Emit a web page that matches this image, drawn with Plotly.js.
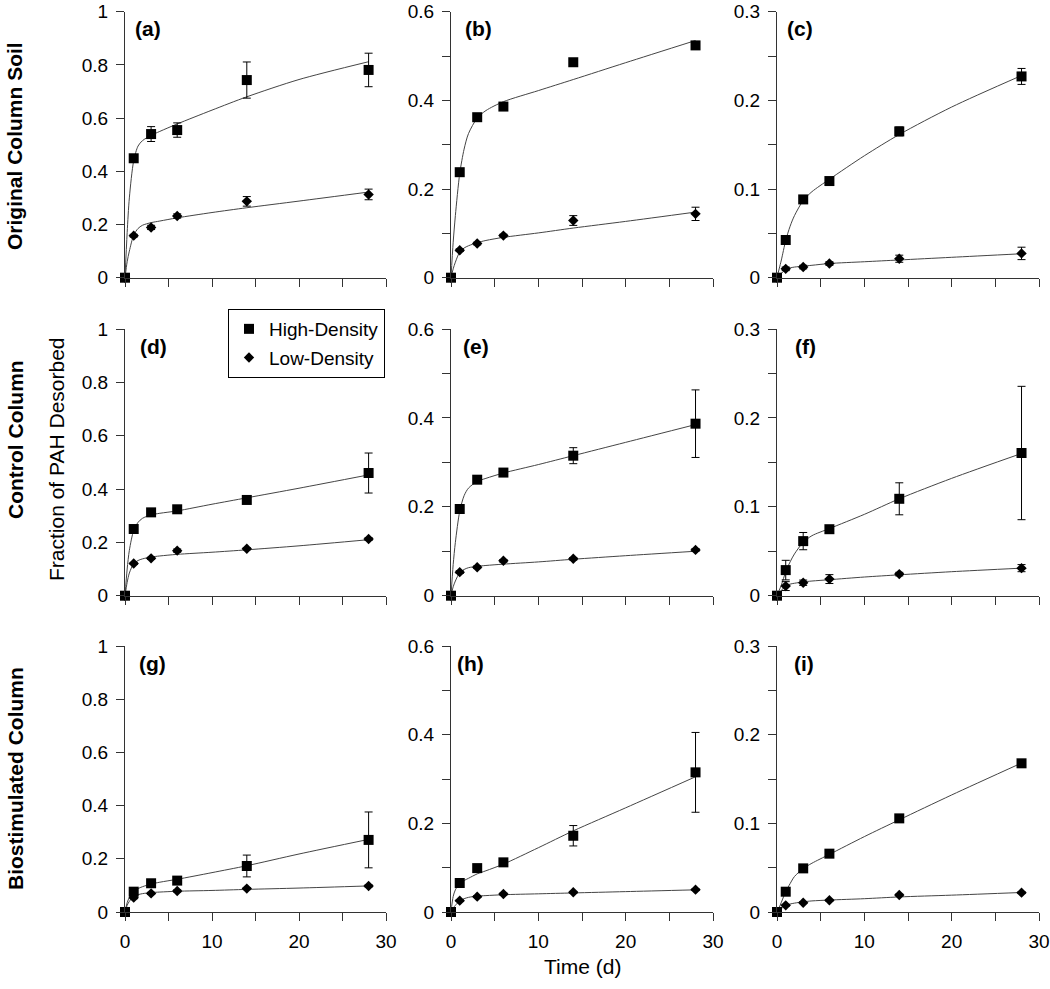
<!DOCTYPE html>
<html>
<head>
<meta charset="utf-8">
<script src="https://cdn.plot.ly/plotly-3.0.1.min.js"></script>
<style>html,body{margin:0;padding:0;background:#fff;}#chart{width:1050px;height:989px;}</style>
</head>
<body>
<div id="chart"></div>
<script>
// ---- Data ----
const days = [0, 1, 3, 6, 14, 28];
const fitDays = [0, 0.25, 0.5, 1, 1.5, 2, 3, 4, 6, 10, 14, 20, 28];
const seriesNames = ["High-Density", "Low-Density"];
const panelLabels = ["(a)", "(b)", "(c)", "(d)", "(e)", "(f)", "(g)", "(h)", "(i)"];
const rowLabels = ["Original Column Soil", "Control Column", "Biostimulated Column"];
const yLabel = "Fraction of PAH Desorbed";
const xLabel = "Time (d)";

// (a) Original soil, column 1
const aHigh = [0, 0.449, 0.540, 0.555, 0.743, 0.781];
const aHighErr = [0, 0.006, 0.028, 0.027, 0.068, 0.063];
const aLow = [0, 0.158, 0.189, 0.232, 0.287, 0.313];
const aLowErr = [0, 0.005, 0.008, 0.008, 0.018, 0.020];
const aHighFit = [0, 0.17, 0.30, 0.44, 0.495, 0.515, 0.535, 0.55, 0.578, 0.63, 0.68, 0.745, 0.812];
const aLowFit = [0, 0.06, 0.10, 0.16, 0.185, 0.197, 0.207, 0.213, 0.225, 0.245, 0.263, 0.288, 0.322];
// (b)
const bHigh = [0, 0.238, 0.362, 0.386, 0.486, 0.524];
const bHighErr = [0, 0.004, 0.004, 0.004, 0.004, 0.006];
const bLow = [0, 0.062, 0.077, 0.095, 0.129, 0.144];
const bLowErr = [0, 0.003, 0.003, 0.003, 0.011, 0.015];
const bHighFit = [0, 0.08, 0.14, 0.235, 0.29, 0.325, 0.36, 0.377, 0.397, 0.422, 0.447, 0.485, 0.535];
const bLowFit = [0, 0.02, 0.035, 0.058, 0.067, 0.072, 0.079, 0.084, 0.091, 0.101, 0.112, 0.127, 0.148];
// (c)
const cHigh = [0, 0.0425, 0.0883, 0.109, 0.165, 0.227];
const cHighErr = [0, 0.003, 0.003, 0.003, 0.005, 0.009];
const cLow = [0, 0.010, 0.012, 0.016, 0.0214, 0.0274];
const cLowErr = [0, 0.002, 0.002, 0.002, 0.004, 0.007];
const cHighFit = [0, 0.01, 0.02, 0.042, 0.058, 0.07, 0.087, 0.097, 0.111, 0.1375, 0.1615, 0.1925, 0.228];
const cLowFit = [0, 0.003, 0.005, 0.009, 0.011, 0.012, 0.013, 0.014, 0.016, 0.018, 0.02, 0.023, 0.027];
// (d) Control column
const dHigh = [0, 0.25, 0.3125, 0.324, 0.359, 0.46];
const dHighErr = [0, 0.01, 0.008, 0.006, 0.01, 0.075];
const dLow = [0, 0.121, 0.14, 0.169, 0.176, 0.2125];
const dLowErr = [0, 0.004, 0.004, 0.006, 0.004, 0.005];
const dHighFit = [0, 0.10, 0.17, 0.245, 0.275, 0.29, 0.303, 0.309, 0.318, 0.343, 0.367, 0.403, 0.453];
const dLowFit = [0, 0.05, 0.085, 0.12, 0.132, 0.138, 0.145, 0.149, 0.155, 0.163, 0.172, 0.187, 0.21];
// (e)
const eHigh = [0, 0.195, 0.261, 0.277, 0.315, 0.387];
const eHighErr = [0, 0.01, 0.004, 0.004, 0.018, 0.076];
const eLow = [0, 0.053, 0.064, 0.0785, 0.083, 0.103];
const eLowErr = [0, 0.003, 0.003, 0.003, 0.003, 0.003];
const eHighFit = [0, 0.07, 0.12, 0.19, 0.225, 0.242, 0.257, 0.264, 0.276, 0.295, 0.315, 0.345, 0.385];
const eLowFit = [0, 0.02, 0.033, 0.052, 0.059, 0.063, 0.066, 0.068, 0.071, 0.076, 0.082, 0.09, 0.10];
// (f)
const fHigh = [0, 0.0288, 0.0614, 0.0748, 0.109, 0.1605];
const fHighErr = [0, 0.011, 0.0097, 0.004, 0.018, 0.075];
const fLow = [0, 0.0108, 0.0146, 0.0187, 0.0243, 0.031];
const fLowErr = [0, 0.005, 0.003, 0.005, 0.002, 0.004];
const fHighFit = [0, 0.006, 0.012, 0.027, 0.038, 0.047, 0.06, 0.0675, 0.0755, 0.0915, 0.109, 0.132, 0.16];
const fLowFit = [0, 0.003, 0.006, 0.011, 0.013, 0.014, 0.0155, 0.0165, 0.018, 0.021, 0.0235, 0.027, 0.031];
// (g) Biostimulated column
const gHigh = [0, 0.0764, 0.108, 0.118, 0.173, 0.271];
const gHighErr = [0, 0.005, 0.005, 0.005, 0.041, 0.105];
const gLow = [0, 0.054, 0.070, 0.079, 0.088, 0.098];
const gLowErr = [0, 0.004, 0.004, 0.004, 0.004, 0.004];
const gHighFit = [0, 0.035, 0.055, 0.077, 0.088, 0.095, 0.105, 0.112, 0.123, 0.148, 0.174, 0.218, 0.273];
const gLowFit = [0, 0.025, 0.04, 0.058, 0.065, 0.069, 0.073, 0.075, 0.078, 0.081, 0.085, 0.09, 0.098];
// (h)
const hHigh = [0, 0.0654, 0.099, 0.112, 0.172, 0.315];
const hHighErr = [0, 0.004, 0.004, 0.004, 0.023, 0.09];
const hLow = [0, 0.0256, 0.0346, 0.0406, 0.0444, 0.0504];
const hLowErr = [0, 0.002, 0.002, 0.002, 0.002, 0.002];
const hHighFit = [0, 0.035, 0.05, 0.065, 0.071, 0.076, 0.086, 0.093, 0.108, 0.145, 0.183, 0.235, 0.305];
const hLowFit = [0, 0.009, 0.015, 0.025, 0.03, 0.033, 0.036, 0.037, 0.039, 0.041, 0.043, 0.046, 0.05];
// (i)
const iHigh = [0, 0.0229, 0.0492, 0.0658, 0.1056, 0.1677];
const iHighErr = [0, 0.002, 0.002, 0.002, 0.004, 0.002];
const iLow = [0, 0.0075, 0.0105, 0.0132, 0.0192, 0.0218];
const iLowErr = [0, 0.001, 0.001, 0.001, 0.001, 0.001];
const iHighFit = [0, 0.005, 0.011, 0.023, 0.032, 0.04, 0.049, 0.055, 0.065, 0.085, 0.104, 0.132, 0.168];
const iLowFit = [0, 0.002, 0.004, 0.007, 0.009, 0.01, 0.0115, 0.0125, 0.0135, 0.015, 0.017, 0.019, 0.022];

const yMax = [1, 0.6, 0.3];
const yDtick = [0.2, 0.2, 0.1];
const yMinor = [null, 0.1, 0.05];
const xMax = 30;

const panels = [
  [aHigh, aHighErr, aLow, aLowErr, aHighFit, aLowFit],
  [bHigh, bHighErr, bLow, bLowErr, bHighFit, bLowFit],
  [cHigh, cHighErr, cLow, cLowErr, cHighFit, cLowFit],
  [dHigh, dHighErr, dLow, dLowErr, dHighFit, dLowFit],
  [eHigh, eHighErr, eLow, eLowErr, eHighFit, eLowFit],
  [fHigh, fHighErr, fLow, fLowErr, fHighFit, fLowFit],
  [gHigh, gHighErr, gLow, gLowErr, gHighFit, gLowFit],
  [hHigh, hHighErr, hLow, hLowErr, hHighFit, hLowFit],
  [iHigh, iHighErr, iLow, iLowErr, iHighFit, iLowFit]
];

// ---- Layout geometry (pixels) ----
const W = 1050, H = 989;
const colPx = [[125, 386], [451, 713], [777, 1039]];
const rowPx = [[11.7, 277.7], [329, 595.7], [646, 912]];
const labelOffset = [8, 12, 8, 13, 10, 16, 12, 4, 15];
const FONT = "Arial, 'Liberation Sans', sans-serif";
const AXC = "#333333";
const LINEC = "#444444";

const traces = [];
const layout = {
  width: W, height: H,
  margin: {l: 0, r: 0, t: 0, b: 0},
  paper_bgcolor: "#ffffff", plot_bgcolor: "#ffffff",
  font: {family: FONT, size: 19, color: "#000"},
  showlegend: true,
  legend: {
    x: 228 / W, y: 1 - 309 / H, xanchor: "left", yanchor: "top",
    bgcolor: "#ffffff", bordercolor: "#000", borderwidth: 1,
    font: {family: FONT, size: 19, color: "#000"},
    traceorder: "grouped", tracegroupgap: 1
  },
  annotations: []
};

panels.forEach((p, k) => {
  const r = Math.floor(k / 3), c = k % 3;
  const n = k + 1;
  const xa = n === 1 ? "x" : "x" + n;
  const ya = n === 1 ? "y" : "y" + n;
  const xKey = n === 1 ? "xaxis" : "xaxis" + n;
  const yKey = n === 1 ? "yaxis" : "yaxis" + n;

  layout[xKey] = {
    domain: [colPx[c][0] / W, colPx[c][1] / W],
    anchor: ya, range: [0, xMax], dtick: 10, tick0: 0,
    showline: true, linecolor: AXC, linewidth: 1,
    ticks: "outside", ticklen: 8, tickcolor: AXC, tickwidth: 1,
    minor: {dtick: 5, ticks: "outside", ticklen: 8, tickcolor: AXC, tickwidth: 1, showgrid: false},
    showgrid: false, zeroline: false,
    showticklabels: r === 2, ticklabelstandoff: 4,
    tickfont: {family: FONT, size: 19, color: "#000"}
  };
  const yax = {
    domain: [1 - rowPx[r][1] / H, 1 - rowPx[r][0] / H],
    anchor: xa, range: [0, yMax[c]], dtick: yDtick[c], tick0: 0,
    showline: true, linecolor: AXC, linewidth: 1,
    ticks: "outside", ticklen: 8, tickcolor: AXC, tickwidth: 1,
    showgrid: false, zeroline: false, ticklabelstandoff: 4,
    tickfont: {family: FONT, size: 19, color: "#000"}
  };
  if (yMinor[c]) yax.minor = {dtick: yMinor[c], ticks: "outside", ticklen: 8, tickcolor: AXC, tickwidth: 1, showgrid: false};
  layout[yKey] = yax;

  // fitted curves
  [p[4], p[5]].forEach(fit => {
    traces.push({
      x: fitDays, y: fit, xaxis: xa, yaxis: ya, type: "scatter", mode: "lines",
      line: {color: LINEC, width: 1, shape: "spline", smoothing: 0.8},
      hoverinfo: "skip", showlegend: false
    });
  });
  // data points
  const syms = ["square", "diamond"];
  const sizes = [10, 8];
  [[p[0], p[1]], [p[2], p[3]]].forEach((s, j) => {
    traces.push({
      x: days, y: s[0], xaxis: xa, yaxis: ya, type: "scatter", mode: "markers",
      name: seriesNames[j], legendgroup: seriesNames[j],
      showlegend: k === 3,
      marker: {symbol: syms[j], size: sizes[j], color: "#000", line: {width: 0}},
      error_y: {type: "data", array: s[1], visible: true, color: "#000", thickness: 1, width: 4},
      cliponaxis: false
    });
  });

  layout.annotations.push({
    text: "<b>" + panelLabels[k] + "</b>", xref: "paper", yref: "paper",
    x: (colPx[c][0] + labelOffset[k]) / W, y: 1 - (rowPx[r][0] + 17) / H,
    xanchor: "left", yanchor: "middle", showarrow: false,
    font: {family: FONT, size: 21, color: "#000"}
  });
});

const rowCenters = [146, 440, 779];
rowLabels.forEach((t, r) => {
  layout.annotations.push({
    text: "<b>" + t + "</b>", xref: "paper", yref: "paper",
    x: 15 / W, y: 1 - rowCenters[r] / H, xanchor: "center", yanchor: "middle",
    textangle: -90, showarrow: false,
    font: {family: FONT, size: 21, color: "#000"}
  });
});
layout.annotations.push({
  text: yLabel, xref: "paper", yref: "paper",
  x: 56 / W, y: 1 - 459 / H, xanchor: "center", yanchor: "middle",
  textangle: -90, showarrow: false,
  font: {family: FONT, size: 21, color: "#000"}
});
layout.annotations.push({
  text: xLabel, xref: "paper", yref: "paper",
  x: 582 / W, y: 1 - 966 / H, xanchor: "center", yanchor: "middle",
  showarrow: false, font: {family: FONT, size: 21, color: "#000"}
});

Plotly.newPlot("chart", traces, layout, {staticPlot: true, displayModeBar: false});
</script>
</body>
</html>
